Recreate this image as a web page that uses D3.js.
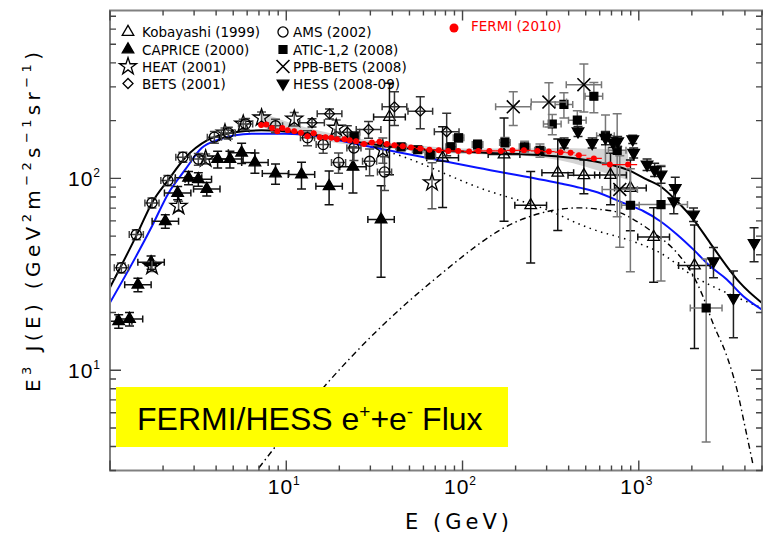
<!DOCTYPE html>
<html>
<head>
<meta charset="utf-8">
<script src="https://d3js.org/d3.v7.min.js"></script>
<style>
  body { margin: 0; background: #fff; }
  svg text { font-family: "DejaVu Sans", sans-serif; }
</style>
</head>
<body>
<div id="chart"></div>
<script>
// ---- values: energy E (GeV), E^3 J(E), relative error, bin half width (decades)
var kobayashiE = [38.5, 77.1, 172, 243.6, 347, 488, 691, 896, 1214, 2069];
var kobayashiV = [209, 128, 133, 72.4, 107, 103.8, 104, 89, 49.5, 35.1];
var kobayashiErr = [0.5, 0.45, 0.55, 0.5, 0.5, 0.2, 0.3, 0.4, 0.42, 0.63];

var capriceE = [1.12, 1.29, 1.44, 1.71, 2.06, 2.42, 2.79, 3.17, 3.54, 4.08, 4.79, 5.58, 6.64, 8.69, 12.2, 17.5, 23.9, 34.5];
var capriceV = [18, 18.5, 27.9, 36.5, 59.8, 84, 100.6, 99, 88, 126, 126, 136, 121, 106, 104.7, 91, 114.8, 61];
var capriceErr = [0.08, 0.08, 0.08, 0.08, 0.08, 0.08, 0.08, 0.08, 0.08, 0.1, 0.1, 0.12, 0.12, 0.12, 0.16, 0.2, 0.27, 0.5];

var heatE = [1.73, 2.45, 3.49, 4.49, 5.7, 7.24, 11.1, 19.2, 35.3, 67.1];
var heatV = [34.8, 71.6, 126.5, 172.6, 192, 207, 204, 183, 141, 95];
var heatErr = [0.06, 0.06, 0.06, 0.06, 0.06, 0.07, 0.08, 0.1, 0.15, 0.27];

var betsE = [14, 17.6, 22.2, 29.3, 41.1, 57.6, 81.3];
var betsV = [195, 217, 174, 180, 236, 224, 175];
var betsErr = [0.05, 0.06, 0.08, 0.1, 0.2, 0.19, 0.25];

var amsE = [1.16, 1.41, 1.73, 2.13, 2.59, 3.17, 3.91, 4.69, 5.88, 8.69, 13.2, 16.2, 19.8, 24.2, 29.7, 36.1];
var amsV = [34.2, 50.9, 74.5, 97.5, 129, 126, 164, 172.6, 192, 188, 162.7, 150, 121, 144, 122.7, 108];
var amsErr = [0.06, 0.06, 0.06, 0.06, 0.06, 0.07, 0.07, 0.07, 0.07, 0.08, 0.09, 0.1, 0.12, 0.14, 0.16, 0.2];

var aticE = [24.3, 44.8, 55.7, 65.6, 86, 95, 121.7, 174, 225, 275, 323, 376, 448, 556, 647, 754, 896, 1337, 2411];
var aticV = [166, 146, 141, 133, 146, 162.7, 150, 154, 146, 140, 192, 243, 201, 268, 167, 140, 72.4, 73, 21.1];
var aticErr = [0.04, 0.04, 0.04, 0.05, 0.05, 0.05, 0.06, 0.06, 0.07, 0.08, 0.12, 0.15, 0.12, 0.18, 0.28, 0.55, 0.55, 0.6, 0.8];
var aticBin = [0.03, 0.03, 0.03, 0.03, 0.03, 0.03, 0.03, 0.03, 0.03, 0.03, 0.05, 0.05, 0.05, 0.05, 0.05, 0.05, 0.05, 0.15, 0.09];

var ppbE = [194, 309, 488, 780];
var ppbV = [236, 250, 308, 87.5];
var ppbErr = [0.2, 0.26, 0.28, 0.5];

var hessE = [377, 452, 544, 647, 715, 759, 924, 935, 1114, 1230, 1337, 1580, 1610, 2044, 2653, 3443, 4508];
var hessV = [153, 176, 153, 162.7, 154, 156, 159.8, 136, 118, 111, 104.7, 76, 89, 64.8, 37, 23.8, 46];
var hessErr = [0.06, 0.06, 0.06, 0.08, 0.06, 0.06, 0.05, 0.06, 0.07, 0.08, 0.1, 0.14, 0.14, 0.08, 0.18, 0.38, 0.2];

var fermiE = [7.2, 7.7, 8.3, 8.9, 9.5, 10.2, 11.1, 12.1, 13.2, 14.3, 15.5, 16.7, 18.0, 19.4, 21.4, 22.9, 24.9, 27.6, 30.6, 33.8, 37.2, 41.1, 45.8, 51, 57.6, 64.9, 73.3, 83, 94.6, 109, 123, 142, 165, 192, 223, 266, 309, 360, 410, 457, 556, 685, 869];
var fermiV = [190, 191, 183, 176, 183, 178, 176, 173, 166, 172, 164, 164, 163, 160, 160, 158, 156, 151, 154, 155, 151, 149, 147, 145, 143, 141, 140, 139, 139, 138, 139, 139, 139, 140, 140, 139, 138, 137, 136, 132, 127, 118, 118];

// systematic band around the Fermi points
var bandE = [7.2, 8, 10, 15, 20, 30, 50, 100, 200, 360, 500, 700, 869];
var bandHi = [215, 212, 198, 178, 168, 158, 150, 143, 143, 144, 143, 142, 141];
var bandLo = [185, 180, 172, 160, 152, 146, 140, 134, 132, 124, 115, 104, 98];

// model curves
var totalE = [1, 1.42, 1.73, 2.15, 2.67, 3.61, 5.11, 7.24, 12.2, 23.4, 50, 133, 360, 556, 859, 1114, 1325, 1647, 2044, 2541, 3158, 3755, 5000];
var totalV = [27, 50.9, 74.5, 98.6, 128, 159, 174, 178, 172.6, 156, 143, 136, 129.5, 122.8, 111, 98.6, 91, 76, 61, 46, 34.8, 28.5, 22.4];
var blueE = [1, 1.39, 1.73, 2.15, 2.67, 3.31, 4.11, 6.35, 9.8, 15.1, 23.4, 29, 121.7, 360, 467, 556, 859, 1066, 1325, 1647, 2044, 2541, 3158, 3917, 5000];
var blueV = [22.5, 38.5, 56.3, 84, 111, 144, 159, 171, 171, 166, 153, 147, 113.5, 94, 89.2, 85.7, 73, 67.4, 59.8, 51, 42.5, 34.8, 29.7, 24.3, 20.7];
var dottedE = [30, 39.4, 132.7, 316, 467, 556, 859, 1325, 2044, 3158, 5000];
var dottedV = [146, 136, 87.5, 67.4, 57.4, 54, 48, 40.9, 30.9, 25.3, 21.1];
var dashdotE = [7.0, 16.5, 69.2, 205, 467, 606, 787, 935, 1214, 1647, 2044, 2318, 2639, 3174, 3614, 4013, 4456];
var dashdotV = [3.1, 8.25, 29.7, 59.8, 70.2, 68.8, 66.1, 61, 52, 40.9, 30.9, 24.1, 17.5, 11.7, 7.85, 5.03, 3.19];

var xMajor = [10, 100, 1000];
var yMajor = [10, 100];

var width = 770, height = 549;

var svg = d3.select('#chart')
  .append('svg')
  .attr('width', width)
  .attr('height', height)

var x = d3.scaleLog().domain([1, 5000]).range([110, 762]);
var y = d3.scaleLog().domain([3, 750]).range([470.5, 10.5]);

svg.append('clipPath').attr('id', 'plotclip')
  .append('rect')
  .attr('x', x.range()[0]).attr('y', y.range()[1])
  .attr('width', x.range()[1] - x.range()[0])
  .attr('height', y.range()[0] - y.range()[1])

var plot = svg.append('g').attr('clip-path', 'url(#plotclip)')

function zip(es, vs) {
  return es.map((e, i) => [e, vs[i]])
}

var line = d3.line()
  .x(d => x(d[0]))
  .y(d => y(d[1]))
  .curve(d3.curveMonotoneX)

// grey band
plot.append('path')
  .datum(bandE.map((e, i) => [e, bandLo[i], bandHi[i]]))
  .attr('fill', '#d4d4d4')
  .attr('d', d3.area()
    .x(d => x(d[0]))
    .y0(d => y(d[1]))
    .y1(d => y(d[2]))
    .curve(d3.curveMonotoneX))

// yellow title box
svg.append('rect')
  .attr('x', 116).attr('y', 387)
  .attr('width', 392).attr('height', 60)
  .attr('fill', '#ffff00')

var title = svg.append('text')
  .attr('x', 137).attr('y', 430)
  .style('font-family', '"Liberation Sans", Arial, sans-serif')
  .style('font-size', '32px')
  .attr('fill', '#000')
title.append('tspan').text('FERMI/HESS e')
title.append('tspan').attr('dy', -12).style('font-size', '19px').text('+')
title.append('tspan').attr('dy', 12).text('+e')
title.append('tspan').attr('dy', -12).style('font-size', '19px').text('-')
title.append('tspan').attr('dy', 12).text(' Flux')

// model curves
plot.append('path').datum(zip(dashdotE, dashdotV))
  .attr('d', line).attr('fill', 'none')
  .attr('stroke', '#000').attr('stroke-width', 1.4)
  .attr('stroke-dasharray', '6,3.5,1.5,3.5')
plot.append('path').datum(zip(dottedE, dottedV))
  .attr('d', line).attr('fill', 'none')
  .attr('stroke', '#000').attr('stroke-width', 1.5)
  .attr('stroke-dasharray', '1.5,4.5')
plot.append('path').datum(zip(blueE, blueV))
  .attr('d', line).attr('fill', 'none')
  .attr('stroke', '#0a14ff').attr('stroke-width', 2)
plot.append('path').datum(zip(totalE, totalV))
  .attr('d', line).attr('fill', 'none')
  .attr('stroke', '#000').attr('stroke-width', 2)

// experiments
var sets = [
  {name: 'Kobayashi (1999)', E: kobayashiE, v: kobayashiV, err: kobayashiErr, bin: 0.09, sym: 'triUp', fill: 'none', bar: '#111'},
  {name: 'CAPRICE (2000)', E: capriceE, v: capriceV, err: capriceErr, bin: 0.075, sym: 'triUp', fill: '#000', bar: '#111'},
  {name: 'HEAT (2001)', E: heatE, v: heatV, err: heatErr, bin: 0, sym: 'star', fill: 'none', bar: '#555'},
  {name: 'BETS (2001)', E: betsE, v: betsV, err: betsErr, bin: 0.07, sym: 'diamond', fill: 'none', bar: '#333'},
  {name: 'AMS (2002)', E: amsE, v: amsV, err: amsErr, bin: 0.04, sym: 'circle', fill: 'none', bar: '#444'},
  {name: 'ATIC-1,2 (2008)', E: aticE, v: aticV, err: aticErr, bin: aticBin, sym: 'square', fill: '#000', bar: '#777'},
  {name: 'PPB-BETS (2008)', E: ppbE, v: ppbV, err: ppbErr, bin: 0.1, sym: 'times', fill: 'none', bar: '#777'},
  {name: 'HESS (2008-09)', E: hessE, v: hessV, err: hessErr, bin: 0, sym: 'triDown', fill: '#000', bar: '#222'}
];

function symbolPath(kind) {
  if (kind == 'triUp' || kind == 'triDown') return d3.symbol(d3.symbolTriangle, 58)();
  if (kind == 'circle') return d3.symbol(d3.symbolCircle, 80)();
  if (kind == 'star') return d3.symbol(d3.symbolStar, 90)();
  if (kind == 'diamond') return d3.symbol(d3.symbolSquare, 50)();
  if (kind == 'square') return d3.symbol(d3.symbolSquare, 62)();
  return d3.symbol(d3.symbolTimes, 110)();
}

function symbolRotate(kind) {
  if (kind == 'triDown') return ' rotate(180)';
  if (kind == 'diamond') return ' rotate(45)';
  return '';
}

function drawMarker(g, s, px, py) {
  g.append('path')
    .attr('d', symbolPath(s.sym))
    .attr('transform', 'translate(' + px + ',' + py + ')' + symbolRotate(s.sym))
    .attr('fill', s.fill)
    .attr('stroke', '#000')
    .attr('stroke-width', s.sym == 'times' ? 1.6 : 1.3)
}

sets.forEach(function (s) {
  var g = plot.append('g');
  s.E.forEach(function (e, i) {
    var px = x(e), py = y(s.v[i]);
    var y0 = y(s.v[i] * (1 - s.err[i])), y1 = y(s.v[i] * (1 + s.err[i]));
    var bin = Array.isArray(s.bin) ? s.bin[i] : s.bin;
    var bars = g.append('g').attr('stroke', s.bar).attr('stroke-width', 1.5).attr('fill', 'none');
    bars.append('path')
      .attr('d', 'M' + px + ',' + y0 + 'V' + y1 +
        'M' + (px - 4.5) + ',' + y0 + 'H' + (px + 4.5) +
        'M' + (px - 4.5) + ',' + y1 + 'H' + (px + 4.5))
    if (bin > 0) {
      var x0 = x(e / Math.pow(10, bin)), x1 = x(e * Math.pow(10, bin));
      bars.append('path')
        .attr('d', 'M' + x0 + ',' + py + 'H' + x1 +
          'M' + x0 + ',' + (py - 3.5) + 'V' + (py + 3.5) +
          'M' + x1 + ',' + (py - 3.5) + 'V' + (py + 3.5))
    }
  });
  s.E.forEach(function (e, i) {
    drawMarker(g, s, x(e), y(s.v[i]));
  });
});

// Fermi points on top
var fermi = plot.append('g');
fermiE.forEach(function (e, i) {
  var lo = i > 0 ? Math.sqrt(fermiE[i - 1] * e) : e * e / Math.sqrt(e * fermiE[i + 1]);
  var hi = i < fermiE.length - 1 ? Math.sqrt(fermiE[i + 1] * e) : e * e / Math.sqrt(e * fermiE[i - 1]);
  fermi.append('path')
    .attr('d', 'M' + x(lo) + ',' + y(fermiV[i]) + 'H' + x(hi) +
      'M' + x(e) + ',' + y(fermiV[i] * 0.97) + 'V' + y(fermiV[i] * 1.03))
    .attr('stroke', '#ff0000').attr('stroke-width', 1.2)
});
fermi.selectAll('circle')
  .data(zip(fermiE, fermiV))
  .join('circle')
  .attr('cx', d => x(d[0]))
  .attr('cy', d => y(d[1]))
  .attr('r', 3)
  .attr('fill', '#ff0000')

// frame and ticks
var axes = svg.append('g');
axes.append('rect')
  .attr('x', x.range()[0]).attr('y', y.range()[1])
  .attr('width', x.range()[1] - x.range()[0])
  .attr('height', y.range()[0] - y.range()[1])
  .attr('fill', 'none').attr('stroke', '#808080').attr('stroke-width', 2)

var isMajor = v => Math.abs(Math.log10(v) - Math.round(Math.log10(v))) < 1e-9;

x.ticks().forEach(function (t) {
  var len = isMajor(t) ? 10 : 5;
  var px = x(t);
  axes.append('path')
    .attr('d', 'M' + px + ',' + y.range()[0] + 'v' + (-len) + 'M' + px + ',' + y.range()[1] + 'v' + len)
    .attr('stroke', '#444').attr('stroke-width', 1.4)
});
y.ticks().forEach(function (t) {
  var len = isMajor(t) ? 11 : 6;
  var py = y(t);
  axes.append('path')
    .attr('d', 'M' + x.range()[0] + ',' + py + 'h' + len + 'M' + x.range()[1] + ',' + py + 'h' + (-len))
    .attr('stroke', '#444').attr('stroke-width', 1.4)
});

function powLabel(g, t) {
  g.append('tspan').text('10')
  g.append('tspan')
    .attr('dy', -9)
    .style('font-size', '12px')
    .text(Math.round(Math.log10(t)))
}

xMajor.forEach(function (t) {
  var lab = svg.append('text')
    .attr('x', x(t) - 2).attr('y', 494)
    .attr('text-anchor', 'middle')
    .style('font-family', '"Liberation Sans", Arial, sans-serif')
    .style('font-size', '21px')
    .style('letter-spacing', '1px')
  powLabel(lab, t);
});
yMajor.forEach(function (t) {
  var lab = svg.append('text')
    .attr('x', 101).attr('y', y(t) + 8)
    .attr('text-anchor', 'end')
    .style('font-family', '"Liberation Sans", Arial, sans-serif')
    .style('font-size', '21px')
    .style('letter-spacing', '1px')
  powLabel(lab, t);
});

// axis titles
svg.append('text')
  .attr('x', 457).attr('y', 529)
  .attr('text-anchor', 'middle')
  .attr('textLength', 104)
  .style('font-size', '21px')
  .text('E (GeV)')

var ylab = svg.append('text')
  .attr('transform', 'translate(40,222) rotate(-90)')
  .attr('text-anchor', 'middle')
  .attr('textLength', 340)
  .style('font-size', '20px')
var parts = [['E', 0], ['3', 1], [' J(E) (GeV', 0], ['2', 1], ['m', 0], ['\u22122', 1], ['s', 0], ['\u22121', 1], ['sr', 0], ['\u22121', 1], [')', 0]];
var prevSup = 0;
parts.forEach(function (p) {
  var ts = ylab.append('tspan').text(p[0]);
  if (p[1] != prevSup) ts.attr('dy', p[1] ? -9 : 9);
  if (p[1]) ts.style('font-size', '13px');
  prevSup = p[1];
});

// legend
var legendCol = [128, 283];
var legendRow = [32, 49.5, 66.5, 83.5];
sets.forEach(function (s, i) {
  var col = Math.floor(i / 4), row = i % 4;
  var lg = svg.append('g');
  drawMarker(lg, s, legendCol[col], legendRow[row]);
  lg.append('text')
    .attr('x', legendCol[col] + (col ? 10 : 14))
    .attr('y', legendRow[row] + 5)
    .style('font-size', '13.5px')
    .text(s.name)
});
svg.append('circle')
  .attr('cx', 454).attr('cy', 28).attr('r', 4.5)
  .attr('fill', '#ff0000')
svg.append('text')
  .attr('x', 471).attr('y', 31)
  .attr('fill', '#ff0000')
  .style('font-size', '13.5px')
  .text('FERMI (2010)')
</script>
</body>
</html>
